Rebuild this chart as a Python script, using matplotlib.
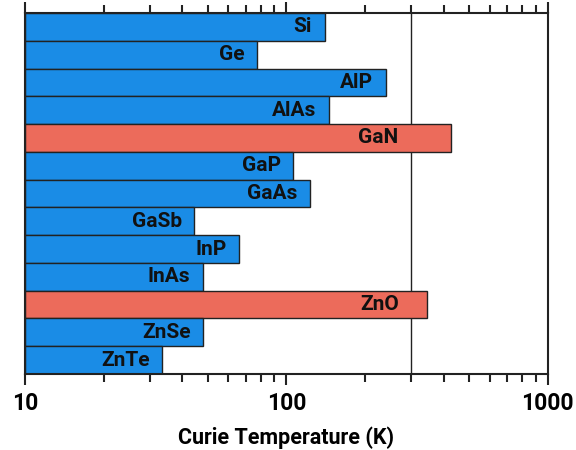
import numpy as np
import matplotlib.pyplot as plt
from matplotlib.ticker import LogLocator, NullFormatter, FixedLocator, FixedFormatter

materials = ['Si', 'Ge', 'AlP', 'AlAs', 'GaN', 'GaP', 'GaAs',
             'GaSb', 'InP', 'InAs', 'ZnO', 'ZnSe', 'ZnTe']
curie_temp = [140, 77, 240, 145, 428, 106, 123, 44.5, 66, 48, 345, 48, 33.5]
highlight = ['GaN', 'ZnO']
room_temp = 300

blue = '#1a8ce6'
red = '#ec6b5b'
font = ['Roboto', 'DejaVu Sans']

fig = plt.figure(figsize=(5.76, 4.5), dpi=100)
ax = fig.add_axes([0.0434, 0.169, 0.9076, 0.802])

y = np.arange(len(materials))
colors = [red if m in highlight else blue for m in materials]
lefts = [10] * len(materials)
widths = [t - 10 for t in curie_temp]
ax.barh(y, widths, left=lefts, height=1.0, color=colors,
        edgecolor='#222222', linewidth=1.0, zorder=2)

# labels sit at the bar end, or just left of the 300 K line for long bars
for yi, name, t in zip(y, materials, curie_temp):
    xpos = min(t, room_temp)
    ax.annotate(name, xy=(xpos, yi), xytext=(-9, 0), textcoords='offset points',
                ha='right', va='center', fontsize=15, fontweight='bold',
                family=font, color='#111111', zorder=3)

ax.axvline(room_temp, color='#222222', linewidth=1.0, zorder=1)

ax.set_xscale('log')
ax.set_xlim(10, 1000)
ax.set_ylim(len(materials) - 0.5, -0.5)
ax.set_yticks([])

ax.xaxis.set_major_locator(FixedLocator([10, 100, 1000]))
ax.xaxis.set_major_formatter(FixedFormatter(['10', '100', '1000']))
ax.xaxis.set_minor_locator(LogLocator(base=10, subs=np.arange(2, 10)))
ax.xaxis.set_minor_formatter(NullFormatter())
ax.tick_params(axis='x', which='both', direction='out', top=True,
               width=1.5, color='#222222')
ax.tick_params(axis='x', which='major', length=8, labelsize=16.5, pad=5)
ax.tick_params(axis='x', which='minor', length=6)
for lbl in ax.get_xticklabels():
    lbl.set_fontweight('bold')
    lbl.set_family(font)

ax.set_xlabel('Curie Temperature (K)', fontsize=15.5, fontweight='bold',
              family=font, labelpad=8)

for s in ax.spines.values():
    s.set_linewidth(1.5)
    s.set_color('#222222')

fig.savefig('out.png', dpi=100)
